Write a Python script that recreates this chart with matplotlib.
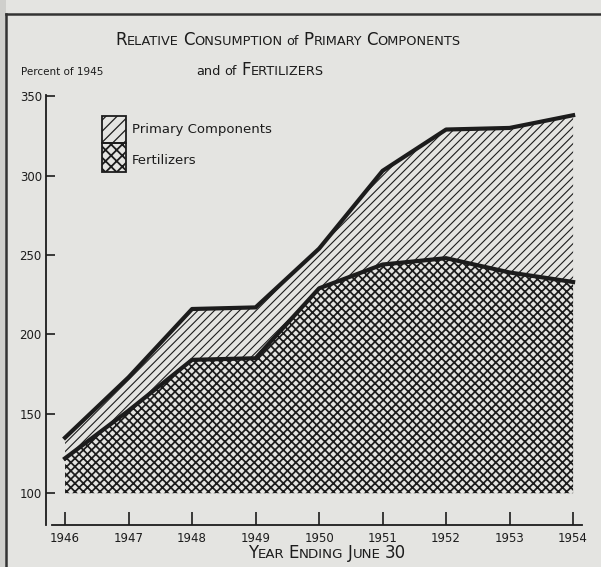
import matplotlib
matplotlib.use("Agg")
import matplotlib.pyplot as plt
from matplotlib.patches import Rectangle
from matplotlib.lines import Line2D

# values (percent of 1945)
years = [1946, 1947, 1948, 1949, 1950, 1951, 1952, 1953, 1954]
primary_total = [135, 173, 216, 217, 254, 303, 329, 330, 338]
fertilizers = [122, 152, 184, 185, 229, 244, 248, 239, 233]
y_ticks = [100, 150, 200, 250, 300, 350]

title_line1 = "Relative Consumption of Primary Components"
title_line2 = "and of Fertilizers"
y_label = "Percent of 1945"
x_label = "Year Ending June 30"
legend_labels = ["Primary Components", "Fertilizers"]

W, H = 601, 567
PAPER = "#e4e4e1"
INK = "#1c1c1c"

plt.rcParams["font.family"] = ["DejaVu Sans"]

fig = plt.figure(figsize=(W / 100, H / 100), dpi=100, facecolor=PAPER)
ax = fig.add_axes([46 / W, 1 - 525 / H, (582 - 46) / W, (525 - 93) / H])
ax.set_facecolor("none")

# shaded areas (dense hatching like the printed screen)
plt.rcParams["hatch.linewidth"] = 1.25
ax.fill_between(years, 100, fertilizers, facecolor="none", edgecolor=INK,
                hatch="xxxx", linewidth=0)
plt.rcParams["hatch.linewidth"] = 0.8
ax.fill_between(years, fertilizers, primary_total, facecolor="none", edgecolor=INK,
                hatch="////", linewidth=0)

ax.plot(years, primary_total, color=INK, lw=3.0, solid_joinstyle="round")
ax.plot(years, fertilizers, color=INK, lw=3.0, solid_joinstyle="round")

ax.set_xlim(1945.70, 1954.14)
ax.set_ylim(80, 352)
ax.set_xticks(years)
ax.set_xticklabels([str(y) for y in years])
ax.set_yticks(y_ticks)

for s in ["top", "right"]:
    ax.spines[s].set_visible(False)
for s in ["left", "bottom"]:
    ax.spines[s].set_color(INK)
    ax.spines[s].set_linewidth(1.3)
ax.spines["bottom"].set_bounds(1945.8, 1954.14)
ax.spines["left"].set_bounds(80, 351)

ax.tick_params(axis="x", direction="in", length=9.5, width=1.2, colors=INK,
               labelsize=8.5, pad=5)
ax.tick_params(axis="y", direction="in", length=6.5, width=1.2, colors=INK,
               labelsize=8.5, pad=3)


def small_caps(x, y, text, big, small, ha="center"):
    # fake small caps: capitals at big size, the rest upper-cased at small size
    pieces = []
    for word in text.split(" "):
        if word.islower():
            pieces.append((word, small))
        elif word.isdigit():
            pieces.append((word, big))
        else:
            pieces.append((word[0], big))
            if len(word) > 1:
                pieces.append((word[1:].upper(), small))
        pieces.append((" ", None))
    pieces = pieces[:-1]
    r = fig.canvas.get_renderer()
    arts, cur = [], 0.0
    for s, size in pieces:
        if size is None:
            cur += small * 0.45
            continue
        t = fig.text(0, y / H, s, fontsize=size, color=INK, va="baseline",
                     ha="left", transform=fig.transFigure)
        w = t.get_window_extent(r).width
        arts.append((t, cur))
        cur += w
    x0 = x - cur / 2 if ha == "center" else x
    for t, off in arts:
        t.set_x((x0 + off) / W)


small_caps(288, H - 45, title_line1, 12, 9.3)
small_caps(260, H - 75, title_line2, 12, 9.3)
fig.text(21 / W, 1 - 75 / H, y_label, fontsize=7.5, color=INK, va="baseline")
small_caps(327, H - 558, x_label, 12, 9.6)

# legend drawn by hand
plt.rcParams["hatch.linewidth"] = 0.9
fig.add_artist(Rectangle((102 / W, 1 - 143 / H), 24 / W, 27 / H, transform=fig.transFigure,
                         facecolor="none", edgecolor=INK, hatch="///", lw=1.3))
plt.rcParams["hatch.linewidth"] = 1.3
fig.add_artist(Rectangle((102 / W, 1 - 172 / H), 24 / W, 29 / H, transform=fig.transFigure,
                         facecolor="none", edgecolor=INK, hatch="xxx", lw=1.3))
fig.text(132 / W, 1 - 130 / H, legend_labels[0], fontsize=9.5, color=INK, va="center")
fig.text(132 / W, 1 - 160 / H, legend_labels[1], fontsize=9.5, color=INK, va="center")

# page frame of the scan
fig.add_artist(Rectangle((0, 0), 6 / W, 1, transform=fig.transFigure,
                         facecolor="#cfcfcc", edgecolor="none"))
fig.add_artist(Line2D([6 / W, 1], [1 - 14 / H, 1 - 14 / H], transform=fig.transFigure,
                      color="#333333", lw=1.8))
fig.add_artist(Line2D([6 / W, 6 / W], [0, 1 - 14 / H], transform=fig.transFigure,
                      color="#333333", lw=1.8))

fig.savefig("out.png", dpi=100, facecolor=PAPER)
